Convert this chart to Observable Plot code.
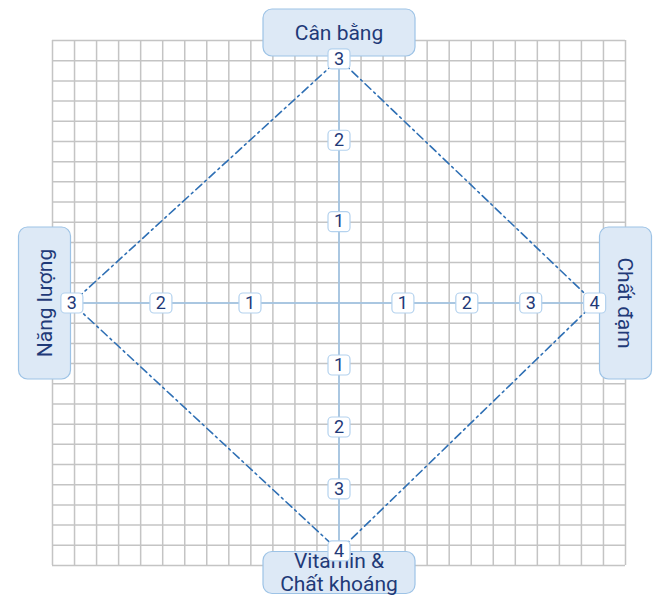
<!DOCTYPE html>
<html>
<head>
<meta charset="utf-8">
<script src="https://cdn.jsdelivr.net/npm/d3@7"></script>
<script src="https://cdn.jsdelivr.net/npm/@observablehq/plot@0.6"></script>
<style>
  html, body { margin: 0; padding: 0; background: #fff; }
  #chart svg { display: block; }
</style>
</head>
<body>
<div id="chart"></div>
<script>
// ---- data ----
const categories = ["Cân bằng", "Chất đạm", "Vitamin &\nChất khoáng", "Năng lượng"];
const values = [3, 4, 4, 3];
const ticksCanBang = [1, 2, 3];
const ticksChatDam = [1, 2, 3, 4];
const ticksVitamin = [1, 2, 3, 4];
const ticksNangLuong = [1, 2, 3];

// ---- layout (grid units per value on each axis, direction) ----
const axes = [
  {dir: [0, 1],  unit: 4.03, ticks: ticksCanBang},
  {dir: [1, 0],  unit: 2.9,  ticks: ticksChatDam},
  {dir: [0, -1], unit: 3.07, ticks: ticksVitamin},
  {dir: [-1, 0], unit: 4.04, ticks: ticksNangLuong}
];
const pos = (i, v) => ({x: axes[i].dir[0] * v * axes[i].unit, y: axes[i].dir[1] * v * axes[i].unit});

const gridN = 13;
const gridVals = d3.range(-gridN, gridN + 1);

const tickData = axes.flatMap((a, i) => a.ticks.map(t => ({...pos(i, t), label: String(t)})));
const axisEnds = axes.map((a, i) => ({...pos(i, d3.max(a.ticks)), i}));
const poly = values.map((v, i) => pos(i, v));
poly.push(poly[0]);

function roundRect(w, h, r) {
  return {
    draw(ctx) {
      const x0 = -w / 2, x1 = w / 2, y0 = -h / 2, y1 = h / 2;
      ctx.moveTo(x0 + r, y0);
      ctx.lineTo(x1 - r, y0);
      ctx.arcTo(x1, y0, x1, y0 + r, r);
      ctx.lineTo(x1, y1 - r);
      ctx.arcTo(x1, y1, x1 - r, y1, r);
      ctx.lineTo(x0 + r, y1);
      ctx.arcTo(x0, y1, x0, y1 - r, r);
      ctx.lineTo(x0, y0 + r);
      ctx.arcTo(x0, y0, x0 + r, y0, r);
      ctx.closePath();
    }
  };
}

const textColor = "#1f3a78";
const font = "Roboto, 'Noto Sans', sans-serif";

// label box layout: anchor at grid edge along axis, with offsets
const labelLayout = [
  {x: 0, y: gridN, dx: 0, dy: -8, w: 152, h: 47, rotate: 0},
  {x: gridN, y: 0, dx: 0, dy: 0, w: 52, h: 152, rotate: 90},
  {x: 0, y: -gridN, dx: 0, dy: 7, w: 152, h: 42, rotate: 0},
  {x: -gridN, y: 0, dx: -8, dy: 0, w: 52, h: 152, rotate: -90}
];
const labelData = categories.map((c, i) => ({...labelLayout[i], label: c}));

const marks = [
  Plot.ruleX(gridVals, {x: d => d, y1: -gridN, y2: gridN, stroke: "#c4c4c4", strokeWidth: 1.5}),
  Plot.ruleY(gridVals, {y: d => d, x1: -gridN, x2: gridN, stroke: "#c4c4c4", strokeWidth: 1.5}),
  Plot.link([0], {x1: () => axisEnds[3].x, x2: () => axisEnds[1].x, y1: 0, y2: 0, stroke: "#9dc3e6", strokeWidth: 1.5}),
  Plot.link([0], {x1: 0, x2: 0, y1: () => axisEnds[0].y, y2: () => axisEnds[2].y, stroke: "#9dc3e6", strokeWidth: 1.5}),
  Plot.line(poly, {x: "x", y: "y", stroke: "#2e6fb4", strokeWidth: 1.6, strokeDasharray: "8 4 2 4", curve: "linear"}),
  ...labelData.map(d => Plot.dot([d], {x: "x", y: "y", dx: d.dx, dy: d.dy, symbol: roundRect(d.w, d.h, 9), fill: "#dde9f6", stroke: "#9dc3e6", strokeWidth: 1.2})),
  ...labelData.map(d => Plot.text([d], {x: "x", y: "y", dx: d.dx, dy: d.dy, text: "label", rotate: d.rotate, fill: textColor, fontSize: 21, fontFamily: font, lineHeight: 1.1})),
  Plot.dot(tickData, {x: "x", y: "y", symbol: roundRect(22, 20, 4), fill: "white", stroke: "#b4d2ee", strokeWidth: 1.2}),
  Plot.text(tickData, {x: "x", y: "y", text: "label", fill: textColor, fontSize: 18, fontFamily: font})
];

const chart = Plot.plot({
  width: 668,
  height: 600,
  marginLeft: 52,
  marginRight: 43,
  marginTop: 40,
  marginBottom: 35,
  x: {domain: [-gridN, gridN], axis: null},
  y: {domain: [-gridN, gridN], axis: null},
  style: {background: "white", overflow: "visible"},
  marks
});
document.getElementById("chart").appendChild(chart);
</script>
</body>
</html>
